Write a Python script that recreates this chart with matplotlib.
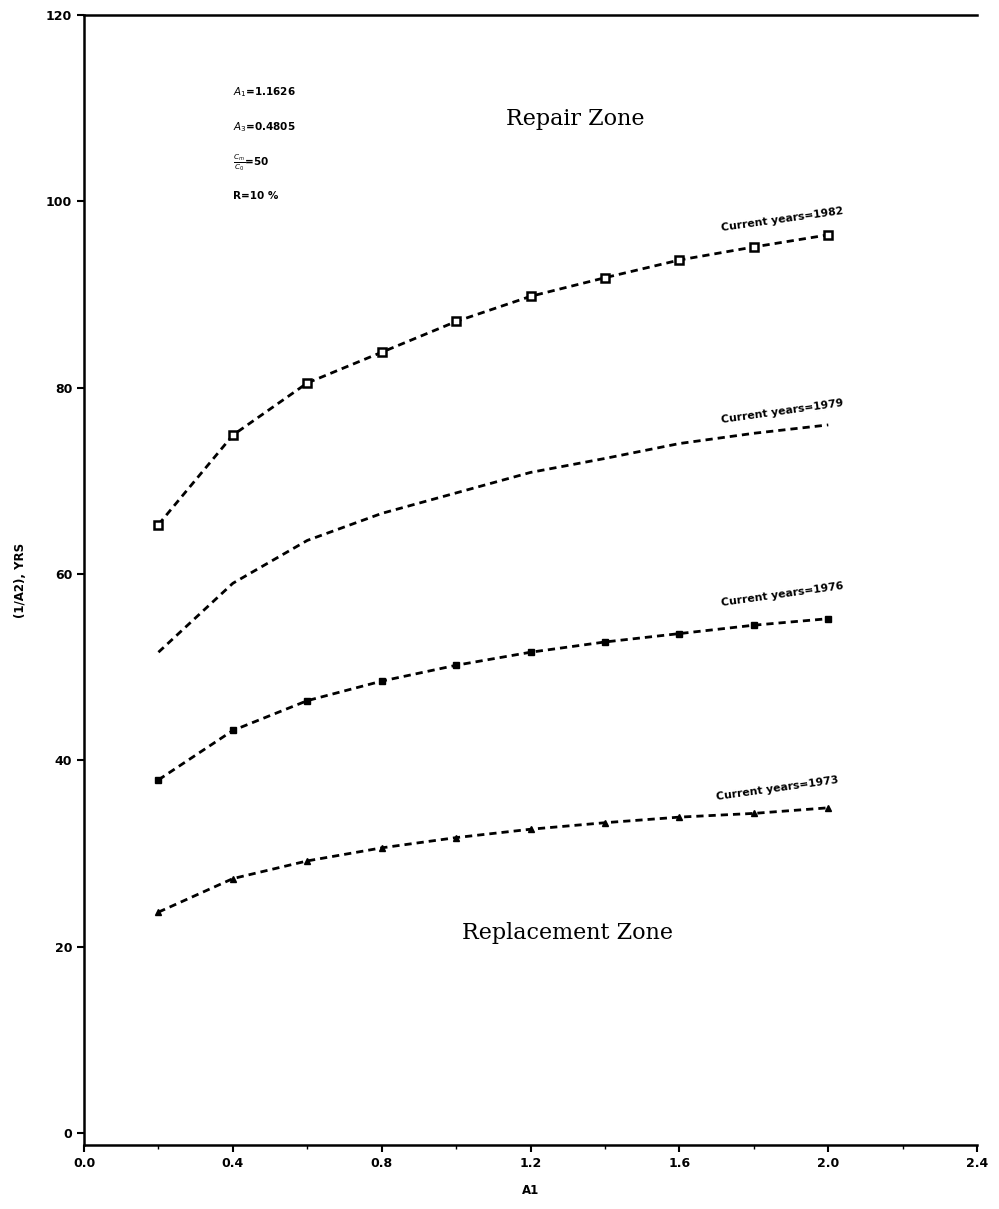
"""
Repair vs replacement zones: critical (1/A2) in years against A1,
for four current years.
"""

import numpy as np
import matplotlib.pyplot as plt
from matplotlib.ticker import MultipleLocator

# --- Data ----------------------------------------------------------------
a1 = [0.2, 0.4, 0.6, 0.8, 1.0, 1.2, 1.4, 1.6, 1.8, 2.0]

yrs_1982 = [65.3, 74.9, 80.5, 83.8, 87.1, 89.8, 91.8, 93.7, 95.1, 96.4]
yrs_1979 = [51.6, 59.0, 63.6, 66.5, 68.7, 70.9, 72.4, 74.0, 75.1, 76.0]
yrs_1976 = [37.9, 43.2, 46.4, 48.5, 50.2, 51.6, 52.7, 53.6, 54.5, 55.2]
yrs_1973 = [23.7, 27.3, 29.2, 30.6, 31.7, 32.6, 33.3, 33.9, 34.3, 34.9]

curve_labels = ['Current years=1982', 'Current years=1979',
                'Current years=1976', 'Current years=1973']
label_pos = [(1.715, 96.6), (1.715, 76.0), (1.715, 56.3), (1.70, 35.5)]

params = ['$A_1$=1.1626', '$A_3$=0.4805', r'$\frac{C_m}{C_0}$=50', 'R=10 %']
params_y = [111.7, 108.0, 104.2, 100.6]

# --- Plot ----------------------------------------------------------------
fig = plt.figure(figsize=(9.99, 12.09), dpi=100)
ax = fig.add_axes([0.0841, 0.0529, 0.894, 0.9347])

dash = (0, (2.6, 1.8))
ax.plot(a1, yrs_1982, color='black', linestyle=dash, linewidth=2,
        marker='s', markersize=6, markerfacecolor='white',
        markeredgewidth=1.8)
ax.plot(a1, yrs_1979, color='black', linestyle=dash, linewidth=2)
ax.plot(a1, yrs_1976, color='black', linestyle=dash, linewidth=2,
        marker='s', markersize=4.5)
ax.plot(a1, yrs_1973, color='black', linestyle=dash, linewidth=2,
        marker='^', markersize=5)

for lab, (lx, ly) in zip(curve_labels, label_pos):
    ax.text(lx, ly, lab, fontsize=7.8, fontweight='bold',
            rotation=8, rotation_mode='anchor', ha='left', va='bottom')

for p, py in zip(params, params_y):
    ax.text(0.40, py, p, fontsize=7.5, fontweight='bold', va='center')

ax.text(1.32, 108.8, 'Repair Zone', fontsize=16, family='DejaVu Serif',
        ha='center', va='center')
ax.text(1.30, 21.5, 'Replacement Zone', fontsize=16, family='DejaVu Serif',
        ha='center', va='center')

ax.set_xlim(0, 2.4)
ax.set_ylim(-1.3, 120)
ax.set_xticks(np.arange(0, 2.41, 0.4))
ax.set_xticklabels([f'{v:.1f}' for v in np.arange(0, 2.41, 0.4)])
ax.xaxis.set_minor_locator(MultipleLocator(0.2))
ax.set_yticks(np.arange(0, 121, 20))

ax.tick_params(axis='both', which='major', direction='out', length=5,
               width=1.5, labelsize=9)
ax.tick_params(axis='x', which='minor', direction='out', length=3, width=1)
for lab in ax.get_xticklabels() + ax.get_yticklabels():
    lab.set_fontweight('bold')

ax.set_xlabel('A1', fontsize=8.5, fontweight='bold', labelpad=10)
ax.set_ylabel('(1/A2), YRS', fontsize=8.5, fontweight='bold', labelpad=14)

ax.spines['right'].set_visible(False)
for s in ('left', 'bottom', 'top'):
    ax.spines[s].set_linewidth(1.8)

fig.savefig('out.png', dpi=100)
plt.close(fig)
